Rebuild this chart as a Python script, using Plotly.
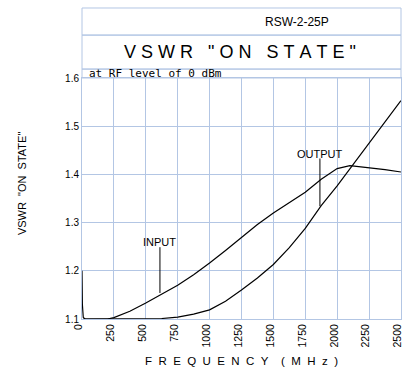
import plotly.graph_objects as go

# ---- data ----
input_freq = [0, 3, 10, 25, 100, 200, 250, 375, 500, 625, 750, 875, 1000, 1125,
              1250, 1375, 1500, 1625, 1750, 1875, 2000, 2100, 2250, 2375, 2500]
input_vswr = [1.2, 1.13, 1.103, 1.1, 1.1, 1.1, 1.103, 1.116, 1.133, 1.152, 1.17,
              1.192, 1.216, 1.242, 1.27, 1.296, 1.32, 1.342, 1.363, 1.39, 1.412,
              1.418, 1.414, 1.41, 1.405]
output_freq = [10, 250, 500, 625, 750, 875, 1000, 1125, 1250, 1375, 1500, 1625,
               1750, 1875, 2000, 2125, 2250, 2375, 2500]
output_vswr = [1.1, 1.1, 1.1, 1.101, 1.104, 1.11, 1.119, 1.137, 1.16, 1.185,
               1.213, 1.248, 1.288, 1.335, 1.376, 1.42, 1.465, 1.51, 1.553]
x_ticks = [0, 250, 500, 750, 1000, 1250, 1500, 1750, 2000, 2250, 2500]
y_ticks = [1.1, 1.2, 1.3, 1.4, 1.5, 1.6]

# label anchors (data coords)
input_label = dict(x=611, y=1.259, line_top=1.249, line_bot=1.154)
output_label = dict(x=1865, y=1.443, line_top=1.433, line_bot=1.334)

GRID = "#b3c6e4"
NB = "\u00a0"
narrow = "Liberation Sans, Arial, sans-serif"

fig = go.Figure()
fig.add_trace(go.Scatter(x=input_freq, y=input_vswr, mode="lines",
                         line=dict(color="black", width=1.2), name="INPUT"))
fig.add_trace(go.Scatter(x=output_freq, y=output_vswr, mode="lines",
                         line=dict(color="black", width=1.2), name="OUTPUT"))

# leader lines
for lab in (input_label, output_label):
    fig.add_shape(type="line", xref="x", yref="y", x0=lab["x"], x1=lab["x"],
                  y0=lab["line_bot"], y1=lab["line_top"],
                  line=dict(color="black", width=1))
fig.add_annotation(x=input_label["x"], y=input_label["y"], text="INPUT",
                   showarrow=False, font=dict(family=narrow, size=11, color="black"))
fig.add_annotation(x=output_label["x"], y=output_label["y"], text="OUTPUT",
                   showarrow=False, font=dict(family=narrow, size=11, color="black"))

# header boxes (paper coords, above plot)
for y0, y1 in [(1.0, 1.037), (1.037, 1.178), (1.178, 1.2905)]:
    fig.add_shape(type="rect", xref="paper", yref="paper", x0=0, x1=1, y0=y0, y1=y1,
                  line=dict(color=GRID, width=1), fillcolor="rgba(0,0,0,0)")

fig.add_annotation(xref="paper", yref="paper", x=0.673, y=1.234, text="RSW-2-25P",
                   showarrow=False, xanchor="center", yanchor="middle",
                   font=dict(family=narrow, size=12, color="black"))
title_txt = (NB.join("VSWR") + NB * 3 + NB.join('"ON') + NB * 3 + NB.join('STATE"'))
fig.add_annotation(xref="paper", yref="paper", x=0.495, y=1.107, text=title_txt,
                   showarrow=False, xanchor="center", yanchor="middle",
                   font=dict(family=narrow, size=18, color="black"))
fig.add_annotation(xref="paper", yref="paper", x=0.015, y=1.017,
                   text="at RF level of 0 dBm", showarrow=False,
                   xanchor="left", yanchor="middle",
                   font=dict(family="DejaVu Sans Mono, monospace", size=11, color="black"))

# y-axis title as rotated annotation
fig.add_annotation(xref="paper", yref="paper", x=-0.188, y=0.56,
                   text='VSWR' + NB * 2 + '"ON' + NB * 2 + 'STATE"', textangle=-90,
                   showarrow=False, xanchor="center", yanchor="middle",
                   font=dict(family=narrow, size=11, color="black"))

xtitle = (NB * 2).join("FREQUENCY") + NB * 4 + (NB * 2).join("(MHz)")
fig.update_layout(
    width=403, height=373,
    margin=dict(l=82, r=2, t=78, b=54),
    paper_bgcolor="white", plot_bgcolor="white",
    showlegend=False,
    xaxis=dict(range=[0, 2500.5], tickvals=x_ticks, ticktext=[str(v) for v in x_ticks],
               tickangle=-90, showgrid=True, gridcolor=GRID, gridwidth=1,
               showline=True, linecolor=GRID, mirror=True, zeroline=False,
               automargin=False, ticklabeloverflow="allow", ticklabelshift=-3,
               ticks="", tickfont=dict(family=narrow, size=10.5, color="black"),
               title=dict(text=xtitle, font=dict(family=narrow, size=11.5, color="black"),
                          standoff=10)),
    yaxis=dict(range=[1.1, 1.6], tickvals=y_ticks, ticktext=[f"{v:.1f}" for v in y_ticks],
               showgrid=True, gridcolor=GRID, gridwidth=1,
               showline=True, linecolor=GRID, mirror=True, zeroline=False,
               automargin=False,
               ticks="", tickfont=dict(family=narrow, size=10, color="black")),
)

fig.write_html("out.html",
               config={"displayModeBar": False},
               post_script="document.body.style.margin='0';"
                           "document.body.style.overflow='hidden';")
